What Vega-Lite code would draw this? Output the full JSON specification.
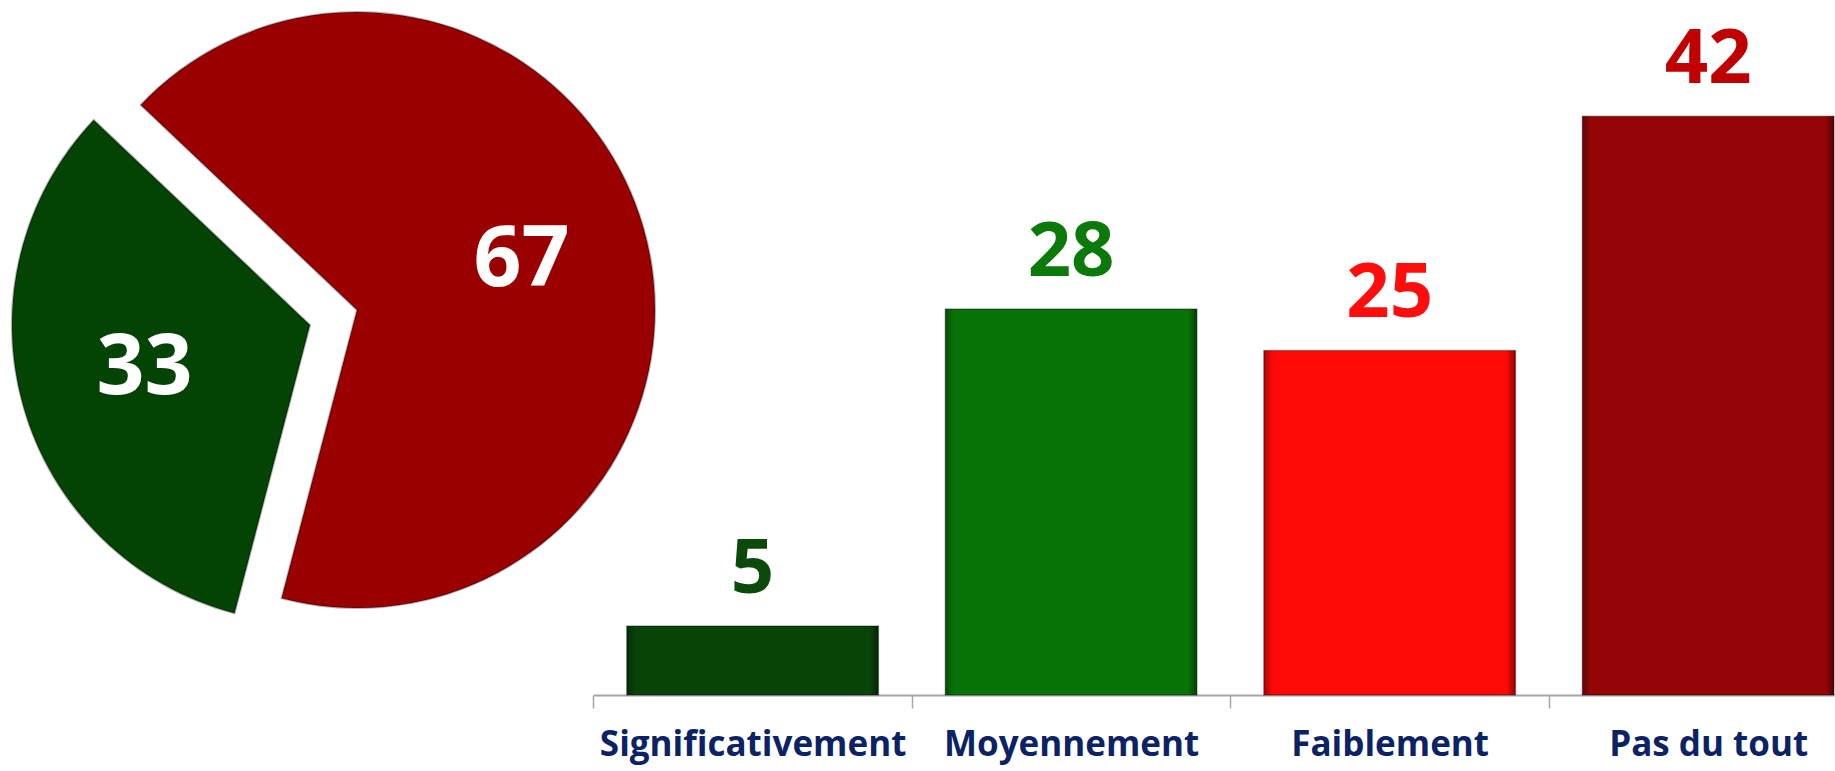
{
  "$schema": "https://vega.github.io/schema/vega-lite/v6.json",
  "padding": {"left": 0, "top": 0, "right": 0, "bottom": 8},
  "background": "white",
  "config": {"view": {"stroke": null}, "font": "Open Sans"},
  "spacing": 0,
  "bounds": "flush",
  "hconcat": [
    {
      "width": 593,
      "height": 630,
      "data": {"values": [
        {"groupe": "Faiblement + Pas du tout", "valeur": 67},
        {"groupe": "Significativement + Moyennement", "valeur": 33}
      ]},
      "encoding": {
        "theta": {"field": "valeur", "type": "quantitative", "stack": true, "scale": {"range": [-0.812, 5.471]}},
        "order": {"field": "groupe", "sort": "ascending"},
        "color": {
          "field": "groupe",
          "type": "nominal",
          "scale": {"domain": ["Faiblement + Pas du tout", "Significativement + Moyennement"], "range": ["#9B0000", "#034303"]},
          "legend": null
        }
      },
      "layer": [
        {
          "mark": {"type": "arc", "radius": 298, "xOffset": 60.5, "yOffset": -5, "stroke": "black", "strokeOpacity": 0.3, "strokeWidth": 2},
          "encoding": {
            "opacity": {"condition": {"test": "datum.groupe === 'Faiblement + Pas du tout'", "value": 1}, "value": 0}
          }
        },
        {
          "mark": {"type": "arc", "radius": 298, "xOffset": 13.5, "yOffset": 10, "stroke": "black", "strokeOpacity": 0.3, "strokeWidth": 2},
          "encoding": {
            "opacity": {"condition": {"test": "datum.groupe === 'Significativement + Moyennement'", "value": 1}, "value": 0}
          }
        },
        {
          "mark": {"type": "text", "radius": 196, "xOffset": 36.5, "font": "Open Sans", "fontWeight": "bold", "fontSize": 84, "baseline": "middle", "align": "center"},
          "encoding": {
            "text": {"field": "valeur", "type": "quantitative"},
            "color": {"value": "white"}
          }
        }
      ]
    },
    {
      "width": 1241,
      "height": 695,
      "data": {"values": [
        {"reponse": "Significativement", "pourcentage": 5},
        {"reponse": "Moyennement", "pourcentage": 28},
        {"reponse": "Faiblement", "pourcentage": 25},
        {"reponse": "Pas du tout", "pourcentage": 42}
      ]},
      "encoding": {
        "x": {
          "field": "reponse",
          "type": "nominal",
          "sort": null,
          "scale": {"paddingInner": 0.21, "paddingOuter": 0.053, "align": 1},
          "axis": {
            "title": null,
            "labelAngle": 0,
            "labelFont": "Open Sans",
            "labelFontWeight": "bold",
            "labelFontSize": 35,
            "labelColor": "#0B2265",
            "labelLimit": 500,
            "labelOverlap": false,
            "labelBaseline": "alphabetic",
            "labelPadding": 47,
            "labelOffset": 159.4,
            "tickOffset": -159.4,
            "tickSize": 13,
            "tickWidth": 1.5,
            "tickColor": "#A6A6A6",
            "domainColor": "#A6A6A6",
            "domainWidth": 2,
            "grid": false
          }
        },
        "y": {
          "field": "pourcentage",
          "type": "quantitative",
          "scale": {"domain": [0, 50.43], "nice": false},
          "axis": null
        }
      },
      "layer": [
        {
          "mark": {"type": "bar", "stroke": "black", "strokeOpacity": 0.3, "strokeWidth": 1.5},
          "encoding": {
            "color": {
              "field": "reponse",
              "type": "nominal",
              "scale": {"domain": ["Significativement", "Moyennement", "Faiblement", "Pas du tout"], "range": ["#084408", "#077307", "#FF0808", "#960505"]},
              "legend": null
            }
          }
        },
        {
          "mark": {
            "type": "bar",
            "fill": {
              "gradient": "linear",
              "x1": 0, "x2": 1, "y1": 0, "y2": 0,
              "stops": [
                {"offset": 0, "color": "rgba(0,0,0,0.35)"},
                {"offset": 0.035, "color": "rgba(0,0,0,0)"},
                {"offset": 0.965, "color": "rgba(0,0,0,0)"},
                {"offset": 1, "color": "rgba(0,0,0,0.45)"}
              ]
            }
          },
          "encoding": {}
        },
        {
          "mark": {"type": "text", "baseline": "alphabetic", "align": "center", "dy": -33, "fontSize": 76, "fontWeight": "bold", "font": "Open Sans"},
          "encoding": {
            "text": {"field": "pourcentage", "type": "quantitative"},
            "color": {
              "field": "reponse",
              "type": "nominal",
              "scale": {"domain": ["Significativement", "Moyennement", "Faiblement", "Pas du tout"], "range": ["#0B4A0B", "#0B7A0B", "#FF0D0D", "#C00000"]},
              "legend": null
            }
          }
        }
      ],
      "resolve": {"scale": {"color": "independent"}}
    }
  ]
}
